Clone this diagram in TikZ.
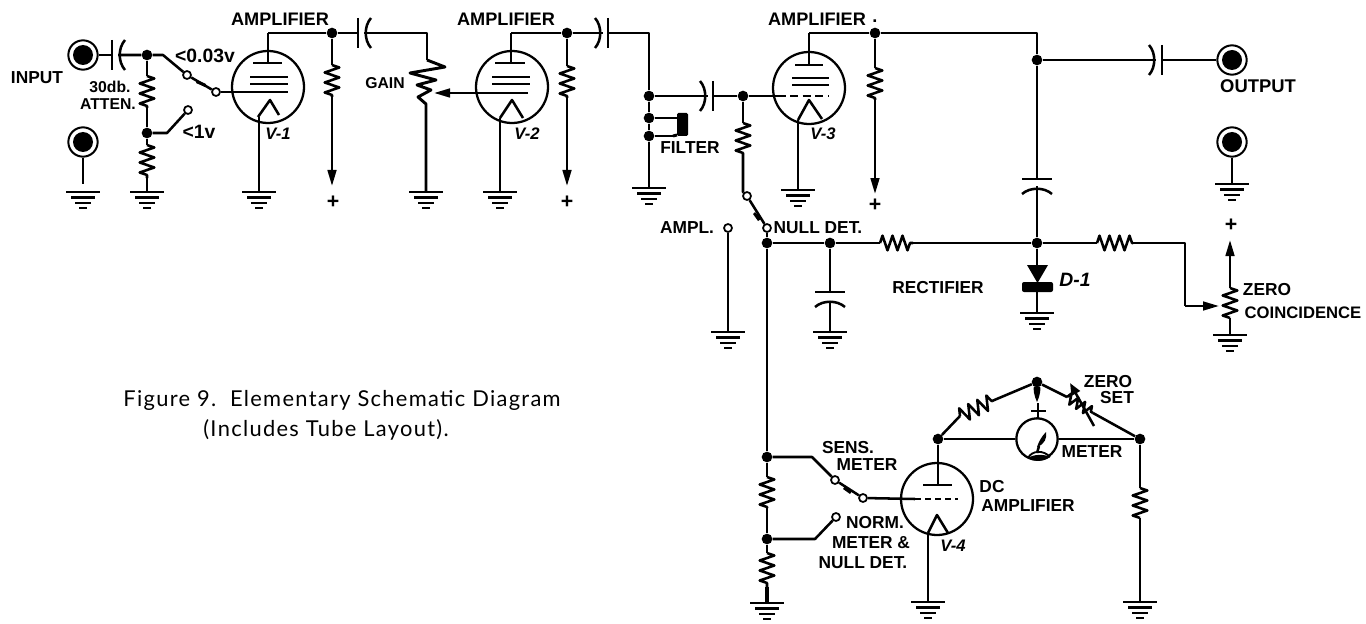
\documentclass[tikz,border=0pt]{standalone}
\usepackage{fontspec}
\setmainfont{Liberation Sans}
\newfontfamily\capfont[LetterSpace=6]{Lato}
\usetikzlibrary{arrows.meta,decorations.pathmorphing}
\tikzset{
  x=0.75pt,y=-0.75pt,
  wire/.style={line width=1.9pt,line join=round},
  thin wire/.style={line width=1.4pt},
  res/.style={wire,decorate,decoration={zigzag,amplitude=5.5pt,segment length=7.5pt}},
  arrowline/.style={wire,-{Stealth[length=12pt,width=6.5pt,inset=0pt]}},
  dot/.style={circle,fill=black,inner sep=0pt,minimum size=8pt},
  contact/.style={circle,draw=black,fill=white,line width=1.3pt,inner sep=0pt,minimum size=6pt},
  jackout/.style={circle,draw=black,fill=white,line width=1.5pt,inner sep=0pt,minimum size=22pt},
  jackin/.style={circle,fill=black,inner sep=0pt,minimum size=15pt},
  tube/.style={circle,draw=black,line width=1.7pt,inner sep=0pt,minimum size=54pt},
  meterbody/.style={circle,draw=black,fill=white,line width=1.7pt,inner sep=0pt,minimum size=31pt},
  lab/.style={inner sep=0pt,font=\fontsize{13.6pt}{14pt}\bfseries},
  sublab/.style={inner sep=0pt,font=\fontsize{13pt}{14pt}\bfseries},
  smalllab/.style={inner sep=0pt,font=\fontsize{11.8pt}{12pt}\bfseries},
  tag/.style={inner sep=0pt,font=\fontsize{12.5pt}{13pt}\bfseries\itshape},
  caption/.style={inner sep=0pt,font=\capfont\fontsize{16.4pt}{18pt}\selectfont},
  gnd/.pic={
    \draw[line width=1.8pt] (-17,0) -- (17,0);
    \draw[line width=1.8pt] (-12,5.5) -- (12,5.5);
    \draw[line width=1.8pt] (-8,11) -- (8,11);
    \draw[line width=1.8pt] (-4,16) -- (4,16);
  },
  capL/.pic={
    \draw[wire] (0,-15) -- (0,15);
    \draw[wire] (13,-15) .. controls (6,-7) and (6,7) .. (13,15);
  },
  capR/.pic={
    \draw[wire] (0,-15) -- (0,15);
    \draw[wire] (-13,-15) .. controls (-6,-7) and (-6,7) .. (-13,15);
  },
  capV/.pic={
    \draw[wire] (-15,0) -- (15,0);
    \draw[wire] (-15,15) .. controls (-7,8) and (7,8) .. (15,15);
  },
}
\begin{document}
\begin{tikzpicture}
\useasboundingbox (0,0) rectangle (1366,624);
% ---------- nodes: jacks
\foreach \n/\x/\y in {ji/83/55,jg/83/142,jo/1232/60,jz/1232/142}{
  \node[jackout] (\n) at (\x,\y) {};
  \node[jackin] at (\x,\y) {};
}
% ---------- tubes
\node[tube] (v1) at (268,87) {};
\node[tube] (v2) at (512,87) {};
\node[tube] (v3) at (809,88) {};
\node[tube] (v4) at (937,499) {};
\node[meterbody] (m) at (1037,439) {};
% ---------- junctions
\foreach \n/\x/\y in {a1/147/55,a2/147/133,b1/332/33,c1/567/33,d1/649/96,d2/649/118,d3/649/136,
  e1/743/96,f1/875/33,g1/1037/60,g2/1037/243,h1/767/243,h2/830/243,
  k1/767/457,k2/767/539,n1/938/439,n2/1140/439,n3/1037/382}{
  \node[dot] (\n) at (\x,\y) {};
}
% ---------- contacts
\foreach \n/\x/\y in {s1/187/75,s2/216/92,s3/188/110,t1/747/196,t2/767/228,t3/728/228,
  u1/835/480,u2/863/498,u3/836/517}{
  \node[contact] (\n) at (\x,\y) {};
}
% ---------- free ends
\foreach \n/\x/\y in {
 c1p/112/55,c1a/118/55, ra1/147/76,ra2/147/108, rb1/147/145,rb2/147/178, ga/147/192, gj/83/184,
 bend1/163/55, bend2/167/133,
 p1/268/63,p1t/268/33,gr1/288/92,
 c2p/358/33,c2a/364/33,
 rp1/332/65,rp2/332/97,tip1/332/186,
 pot1t/427/33,gg/426/192,pw/434/93,
 p2/511/63,p2t/511/33,gr2e/528/93,
 c3a/603/33,c3p/608/33,tw/649/33,
 rq1/567/66,rq2/567/98,tip2/567/186,
 c4a/708/96,c4p/713/96,
 p3/809/65,p3t/809/33,
 rr1/875/68,rr2/875/100,tip3/875/194,
 rs1/743/123,rs2/743/155,rs3/743/192,
 top/1037/33,
 c5a/1037/186,c5p/1037/179,
 c6a/1156/60,c6p/1162/60,
 r7a/880/243,r7b/913/243,
 r8a/1097/243,r8b/1133/243,
 ze1/1185/243,ze2/1185/306,ze3/1219/306,
 zp1/1230/288,zp2/1230/318,ztip/1230/240,
 fa/673/118,fb/673/136,
 k1e/812/457,k2e/815/539,
 rt1/767/477,rt2/767/508,ru1/767/553,ru2/767/587,
 g4c/928/533,
 rv1/960/416,rv2/992/401,
 zs1/1067/397,zs2/1093/413,
 rw1/1140/488,rw2/1140/518,
 dio/1037/265}{
  \coordinate (\n) at (\x,\y);
}
% ---------- grounds
\foreach \x/\y in {83/192,147/192,259/192,426/192,500/192,649/188,798/190,728/332,830/332,1037/313,1230/335,1232/184,767/603,928/602,1140/602}{
  \pic at (\x,\y) {gnd};
}
% ---------- capacitors
\pic at (112,55) {capL};
\pic at (358,33) {capL};
\pic at (608,33) {capR};
\pic at (713,96) {capR};
\pic at (1162,60) {capR};
\pic at (1037,179) {capV};
\pic at (830,292) {capV};
% ---------- V-1 section
\draw[wire] (ji) -- (c1p);
\draw[wire] (c1a) -- (a1) -- (bend1) -- (s1);
\draw[wire] (a1) -- (ra1);
\draw[res] (ra1) -- (ra2);
\draw[wire] (ra2) -- (a2);
\draw[res] (rb1) -- (rb2);
\draw[wire] (a2) -- (rb1) (rb2) -- (ga);
\draw[wire] (jg) -- (gj);
\draw[wire] (a2) -- (bend2) -- (s3);
\draw[wire] (s1) -- (s2);
\fill (197,80) -- (206,84) -- (205,87) -- (196,83) -- cycle;
\draw[wire] (s2) -- (gr1);
\draw[wire] (p1t) -- (p1);
\draw[wire] (p1t) -- (b1) -- (c2p);
\draw[wire] (c2a) -- (pot1t) -- (427,60);
\draw[wire] (253,63) -- (282,63);
\draw[wire] (250,77) -- (288,77);
\draw[wire] (250,84) -- (288,84);
\draw[wire] (258,117) -- (270,100) -- (279,115);
\draw[wire] (259,117) -- (259,192);
\draw[wire] (b1) -- (rp1);
\draw[res] (rp1) -- (rp2);
\draw[arrowline] (rp2) -- (tip1);
% ---------- gain
\draw[line width=2.2pt,line join=round] (427,60) -- (445,67) -- (410,73) -- (436,80) -- (417,85) -- (431,90) -- (418,97) -- (426,104) -- (gg);
\draw[arrowline] (gr2e) -- (pw);
% ---------- V-2 section
\draw[wire] (p2t) -- (p2);
\draw[wire] (p2t) -- (c1) -- (c3a);
\draw[wire] (c3p) -- (tw) -- (d1) -- (d2) -- (d3) -- (649,188);
\draw[wire] (495,63) -- (525,63);
\draw[wire] (492,77) -- (530,77);
\draw[wire] (492,84) -- (530,84);
\draw[wire] (500,118) -- (512,100) -- (523,118);
\draw[wire] (500,118) -- (500,192);
\draw[wire] (c1) -- (rq1);
\draw[res] (rq1) -- (rq2);
\draw[arrowline] (rq2) -- (tip2);
% ---------- filter
\draw[line width=2.2pt] (d2) -- (fa);
\draw[line width=2.2pt] (d3) -- (fb);
\fill[rounded corners=1pt] (677,113) rectangle (688,136);
\draw[line width=2.2pt] (fa) -- (677,118);
\draw[line width=2.2pt] (fb) -- (677,135);
% ---------- V-3 section
\draw[wire] (d1) -- (c4a);
\draw[wire] (c4p) -- (e1) -- (786,96);
\draw[wire,dash pattern=on 6pt off 3.5pt] (790,96) -- (829,96);
\draw[wire] (e1) -- (rs1);
\draw[res] (rs1) -- (rs2);
\draw[wire] (rs2) -- (rs3) -- (t1);
\draw[wire] (t1) -- (t2);
\fill (755,212) -- (761,219) -- (758,221) -- (753,214) -- cycle;
\draw[wire] (t2) -- (h1);
\draw[wire] (t3) -- (728,332);
\draw[wire] (p3t) -- (p3);
\draw[wire] (795,65) -- (823,65);
\draw[wire] (792,78) -- (829,78);
\draw[wire] (792,85) -- (829,85);
\draw[wire] (798,120) -- (809,100) -- (822,119);
\draw[wire] (798,120) -- (798,190);
\draw[wire] (p3t) -- (f1) -- (top) -- (g1);
\draw[wire] (f1) -- (rr1);
\draw[res] (rr1) -- (rr2);
\draw[arrowline] (rr2) -- (tip3);
% ---------- output and rectifier
\draw[wire] (g1) -- (c6a);
\draw[wire] (c6p) -- (jo);
\draw[wire] (g1) -- (c5p);
\draw[wire] (c5a) -- (g2);
\draw[wire] (jz) -- (1232,184);
\draw[wire] (h1) -- (h2) -- (r7a);
\draw[res] (r7a) -- (r7b);
\draw[wire] (r7b) -- (g2) -- (r8a);
\draw[res] (r8a) -- (r8b);
\draw[wire] (h2) -- (830,292);
\draw[wire] (830,302) -- (830,332);
\draw[wire] (g2) -- (dio);
\fill (1027,265) -- (1048,265) -- (1037.5,283) -- cycle;
\fill[rounded corners=1.5pt] (1022,282) rectangle (1053,292);
\draw[wire] (1037,292) -- (1037,313);
% ---------- zero coincidence
\draw[wire] (r8b) -- (ze1) -- (ze2);
\draw[arrowline] (ze2) -- (ze3);
\draw[res] (zp2) -- (zp1);
\draw[arrowline] (zp1) -- (ztip);
\draw[wire] (zp2) -- (1230,335);
% ---------- lower section
\draw[wire] (h1) -- (k1) -- (rt1);
\draw[res] (rt1) -- (rt2);
\draw[wire] (rt2) -- (k2) -- (ru1);
\draw[res] (ru1) -- (ru2);
\draw[line width=2.4pt] (ru2) -- (767,603);
\draw[wire] (k1) -- (k1e) -- (u1);
\draw[wire] (u1) -- (u2);
\fill (845,486) -- (852,491) -- (850,494) -- (843,489) -- cycle;
\draw[wire] (k2) -- (k2e) -- (u3);
\draw[wire] (u2) -- (915,499);
\draw[wire,dash pattern=on 4.5pt off 3pt] (915,499) -- (958,499);
\draw[wire] (923,485) -- (952,485);
\draw[wire] (n1) -- (938,485);
\draw[wire] (928,533) -- (937,515) -- (948,533);
\draw[wire] (g4c) -- (928,602);
\draw[wire] (n1) -- (rv1);
\draw[res] (rv1) -- (rv2);
\draw[wire] (rv2) -- (n3) -- (zs1);
\draw[wire,decorate,decoration={zigzag,amplitude=4pt,segment length=6pt}] (zs1) -- (zs2);
\draw[wire] (zs2) -- (n2);
\draw[wire,-{Stealth[length=9pt,width=7pt,inset=0pt]}] (1094,426) -- (1070,383);
\draw[wire] (n1) -- (m);
\draw[wire] (m) -- (n2);
\fill (n3) .. controls (1033,388) and (1034,396) .. (1037,402) .. controls (1040,396) and (1041,388) .. (n3);
\draw[thin wire] (1038,403) -- (1038,418);
\draw[thin wire] (1031,411) -- (1046,411);
% meter needle
\draw[thin wire] (1028,458) .. controls (1032,450) and (1044,450) .. (1050,457);
\fill (1028,458) .. controls (1034,462) and (1044,462) .. (1050,457) .. controls (1044,454) and (1034,454) .. (1028,458);
\draw[wire] (1037,453) -- (1039,446);
\fill (1037,447) .. controls (1039,441) and (1042,436) .. (1046,432) .. controls (1047,438) and (1045,444) .. (1037,447);
\draw[wire] (n2) -- (rw1);
\draw[res] (rw1) -- (rw2);
\draw[wire] (rw2) -- (1140,602);
% ---------- labels
\node[sublab] (tInput) at (37,78) {INPUT};
\node[lab] (tAmp1) at (280,19) {AMPLIFIER};
\node[lab] (tAmp2) at (506,19) {AMPLIFIER};
\node[lab] (tAmp3) at (817,19) {AMPLIFIER};
\node[lab] (tDot) at (875,21) {.};
\node[smalllab] (tAtt1) at (110,87) {30db.};
\node[smalllab] (tAtt2) at (108,104) {ATTEN.};
\node[inner sep=0pt,font=\fontsize{14.5pt}{15pt}\bfseries] (tLo) at (205,56) {<0.03v};
\node[inner sep=0pt,font=\fontsize{14.5pt}{15pt}\bfseries] (tHi) at (199,132) {<1v};
\node[smalllab] (tGain) at (385,83) {GAIN};
\node[tag] (tV1) at (278,134) {V-1};
\node[tag] (tV2) at (527,134) {V-2};
\node[tag] (tV3) at (823,134) {V-3};
\node[tag] (tV4) at (953,546) {V-4};
\node[tag,font=\fontsize{14.5pt}{15pt}\bfseries\itshape] (tD1) at (1075,280) {D-1};
\node[sublab] (tFilter) at (690,148) {FILTER};
\node[sublab] (tAmpl) at (687,228) {AMPL.};
\node[sublab] (tNull) at (818,228) {NULL DET.};
\node[sublab,font=\fontsize{13.8pt}{14pt}\bfseries] (tOut) at (1258,86) {OUTPUT};
\node[sublab] (tRect) at (938,288) {RECTIFIER};
\node[sublab] (tZero) at (1267,290) {ZERO};
\node[sublab,font=\fontsize{12.5pt}{13pt}\bfseries] (tCoin) at (1303,313) {COINCIDENCE};
\node[sublab] (tSens) at (848,448) {SENS.};
\node[sublab] (tMet) at (867,465) {METER};
\node[sublab] (tNorm) at (875,523) {NORM.};
\node[sublab] (tMet2) at (871,543) {METER \&};
\node[sublab] (tNull2) at (863,563) {NULL DET.};
\node[sublab] (tDC) at (992,487) {DC};
\node[sublab] (tAmp4) at (1028,506) {AMPLIFIER};
\node[sublab] (tMeter) at (1092,452) {METER};
\node[sublab] (tZs1) at (1108,382) {ZERO};
\node[sublab] (tZs2) at (1117,398) {SET};
\foreach \n/\x/\y in {tp1/333/202,tp2/567/202,tp3/875/205,tp4/1231/225}{
  \node[lab,font=\fontsize{16pt}{16pt}\bfseries] (\n) at (\x,\y) {+};
}
\node[caption] (tCap1) at (342,400) {Figure 9.\ \ Elementary Schematic Diagram};
\node[caption] (tCap2) at (326,430) {(Includes Tube Layout).};
\end{tikzpicture}
\end{document}
